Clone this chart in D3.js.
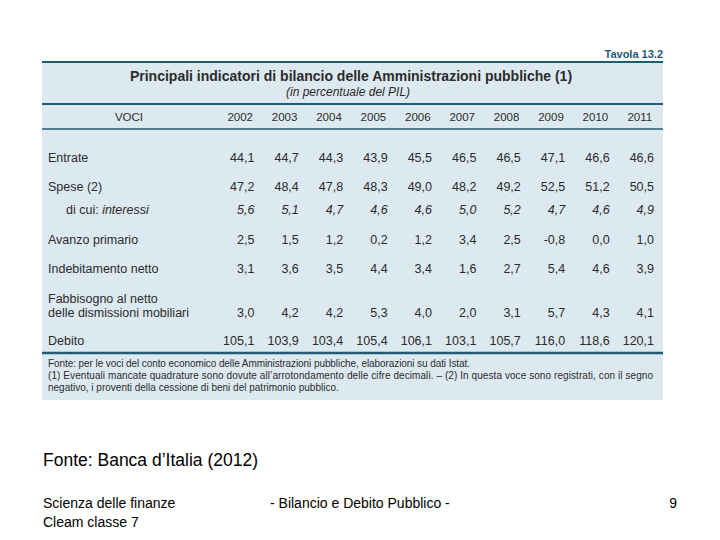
<!DOCTYPE html>
<html><head><meta charset="utf-8">
<script src="https://cdn.jsdelivr.net/npm/d3@7"></script>
<style>body{margin:0;background:#fff}svg{display:block}</style>
</head><body>
<script>
const years = ["2002","2003","2004","2005","2006","2007","2008","2009","2010","2011"];
const rowLabels = ["Entrate","Spese (2)","di cui: interessi","Avanzo primario","Indebitamento netto","Fabbisogno al netto|delle dismissioni mobiliari","Debito"];
const entrate = [44.1,44.7,44.3,43.9,45.5,46.5,46.5,47.1,46.6,46.6];
const spese = [47.2,48.4,47.8,48.3,49.0,48.2,49.2,52.5,51.2,50.5];
const interessi = [5.6,5.1,4.7,4.6,4.6,5.0,5.2,4.7,4.6,4.9];
const avanzo = [2.5,1.5,1.2,0.2,1.2,3.4,2.5,-0.8,0.0,1.0];
const indebitamento = [3.1,3.6,3.5,4.4,3.4,1.6,2.7,5.4,4.6,3.9];
const fabbisogno = [3.0,4.2,4.2,5.3,4.0,2.0,3.1,5.7,4.3,4.1];
const debito = [105.1,103.9,103.4,105.4,106.1,103.1,105.7,116.0,118.6,120.1];
const series = [entrate,spese,interessi,avanzo,indebitamento,fabbisogno,debito];

const W=720,H=540;
const svg=d3.select("body").append("svg").attr("width",W).attr("height",H)
  .style("font-family","'Liberation Sans',Arial,sans-serif");

const px0=42, px1=663, py0=62, py1=400;
const teal="#1f5b72", txt="#2b2b2b";
svg.append("rect").attr("x",px0).attr("y",py0).attr("width",px1-px0).attr("height",py1-py0).attr("fill","#dde9f1");

// rules
[[62,2],[104,2],[129,1.5],[353,2.5]].forEach(([y,w])=>{
  svg.append("line").attr("x1",px0).attr("x2",px1).attr("y1",y).attr("y2",y).attr("stroke",teal).attr("stroke-width",w);
});

svg.append("text").attr("x",px1).attr("y",58).attr("text-anchor","end")
  .attr("font-size",11).attr("font-weight","bold").attr("fill",teal).text("Tavola 13.2");
svg.append("text").attr("x",351).attr("y",81).attr("text-anchor","middle")
  .attr("font-size",14).attr("font-weight","bold").attr("fill",txt)
  .text("Principali indicatori di bilancio delle Amministrazioni pubbliche (1)");
svg.append("text").attr("x",286).attr("y",96).attr("font-size",12).attr("font-style","italic").attr("fill",txt)
  .text("(in percentuale del PIL)");

// columns via band scale
const x=d3.scaleBand().domain(years).range([218,662]).paddingInner(0);
const fmt=v=>d3.format(".1f")(v).replace(".",",").replace("\u2212","-");

svg.append("text").attr("x",129).attr("y",121).attr("text-anchor","middle").attr("font-size",11.5).attr("fill",txt).text("VOCI");
svg.selectAll("text.yr").data(years).enter().append("text").attr("class","yr")
  .attr("x",d=>x(d)+x.bandwidth()/2).attr("y",121).attr("text-anchor","middle")
  .attr("font-size",11.5).attr("fill",txt).text(d=>d);

const rowY=[162,191,214,244,273,317,345];
rowLabels.forEach((lab,i)=>{
  const t=svg.append("text").attr("font-size",12.5).attr("fill",txt);
  if(i===2){
    t.attr("x",66).attr("y",rowY[i]);
    t.append("tspan").text("di cui: ");
    t.append("tspan").attr("font-style","italic").text("interessi");
  } else if(i===5){
    const parts=lab.split("|");
    svg.append("text").attr("x",48).attr("y",rowY[i]-14).attr("font-size",12.5).attr("fill",txt).text(parts[0]);
    t.attr("x",48).attr("y",rowY[i]).text(parts[1]);
  } else {
    t.attr("x",48).attr("y",rowY[i]).text(lab);
  }
  svg.selectAll(null).data(series[i]).enter().append("text")
    .attr("x",(d,j)=>x(years[j])+x.bandwidth()-8).attr("y",rowY[i])
    .attr("text-anchor","end").attr("font-size",12.5).attr("fill",txt)
    .attr("font-style",i===2?"italic":null).text(d=>fmt(d));
});

const notes=["Fonte: per le voci del conto economico delle Amministrazioni pubbliche, elaborazioni su dati Istat.",
 "(1) Eventuali mancate quadrature sono dovute all\u2019arrotondamento delle cifre decimali. \u2013 (2) In questa voce sono registrati, con il segno",
 "negativo, i proventi della cessione di beni del patrimonio pubblico."];
const noteLen=[422,605,null];
notes.forEach((n,i)=>{
  const t=svg.append("text").attr("x",48).attr("y",367+i*12).attr("font-size",10).attr("fill",txt).text(n);
  if(noteLen[i]) t.attr("textLength",noteLen[i]).attr("lengthAdjust","spacing");
});

svg.append("text").attr("x",43).attr("y",466).attr("font-size",17.5).attr("fill","#000").text("Fonte: Banca d\u2019Italia (2012)");
svg.append("text").attr("x",43).attr("y",508).attr("font-size",14).attr("fill","#000").text("Scienza delle finanze");
svg.append("text").attr("x",43).attr("y",527).attr("font-size",14).attr("fill","#000").text("Cleam classe 7");
svg.append("text").attr("x",270).attr("y",508).attr("font-size",14).attr("fill","#000").text("- Bilancio e Debito Pubblico -");
svg.append("text").attr("x",677).attr("y",508).attr("text-anchor","end").attr("font-size",14).attr("fill","#000").text("9");
</script>
</body></html>
